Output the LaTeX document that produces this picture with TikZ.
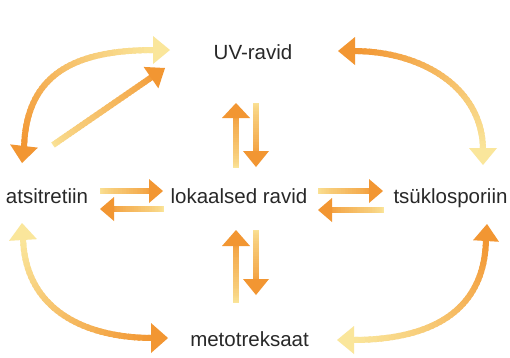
\documentclass[tikz,border=0pt]{standalone}
\usepackage{fontspec}
\setmainfont{Liberation Sans}
\usetikzlibrary{calc}
\definecolor{orA}{RGB}{242,150,50}
\definecolor{paA}{RGB}{250,230,155}
\definecolor{txt}{RGB}{40,40,40}
\tikzset{
  lbl/.style={text=txt,font=\fontsize{20.5}{24}\selectfont,inner sep=0pt,anchor=base},
  shaft/.style={line width=6pt,line cap=butt},
}
% gradient along a cubic curve: #1..#4 points, #5 start colour, #6 end colour
\newcommand\gradpath[6]{%
  \foreach \i in {0,...,39}{%
    \pgfmathsetmacro\ta{\i/40}%
    \pgfmathsetmacro\tb{min(1,(\i+1.5)/40)}%
    \pgfmathtruncatemacro\pc{100*(\i+0.5)/40}%
    \colorlet{segc}{#6!\pc!#5}%
    \pgfcoordinate{gA}{\pgfpointcurveattime{\ta}{\pgfpointanchor{#1}{center}}{\pgfpointanchor{#2}{center}}{\pgfpointanchor{#3}{center}}{\pgfpointanchor{#4}{center}}}%
    \pgfcoordinate{gB}{\pgfpointcurveattime{\tb}{\pgfpointanchor{#1}{center}}{\pgfpointanchor{#2}{center}}{\pgfpointanchor{#3}{center}}{\pgfpointanchor{#4}{center}}}%
    \draw[shaft,segc] (gA) -- (gB);%
  }%
}
% arrow head: #1 tip, #2 base centre, #3 half width, #4 colour
\newcommand\ahead[4]{%
  \fill[#4] (#1) -- ($(#2)!#3!90:(#1)$) -- ($(#2)!#3!-90:(#1)$) -- cycle;%
}
% straight arrow: #1 tail, #2 tip, #3 head length, #4 half width, #5 name
\newcommand\sarrow[5]{%
  \coordinate (#5b) at ($(#2)!#3!(#1)$);
  \coordinate (#5s) at ($(#2)!#3-2pt!(#1)$);
  \gradpath{#1}{#1}{#5s}{#5s}{paA}{orA}
  \ahead{#2}{#5b}{#4}{orA}
}
\begin{document}
\begin{tikzpicture}[x=1pt,y=-1pt]
\useasboundingbox[fill=white] (0,0) rectangle (510,357);

% labels
\node[lbl] (uv) at (253,59) {UV-ravid};
\node[lbl] (ats) at (47,203) {atsitretiin};
\node[lbl] (lok) at (239,203) {lokaalsed ravid};
\node[lbl] (tsu) at (450.5,203) {tsüklosporiin};
\node[lbl] (met) at (249.5,346) {metotreksaat};

% ---- top-left curve (orange at bottom, pale at top)
\coordinate (tlTa) at (22,163); \coordinate (tlBa) at (24,146);
\coordinate (tlTb) at (170,50); \coordinate (tlBb) at (153,50);
\coordinate (tl0) at (24,148); \coordinate (tl1) at (26,70);
\coordinate (tl2) at (80,50); \coordinate (tl3) at (155,50);
\gradpath{tl0}{tl1}{tl2}{tl3}{orA}{paA}
\ahead{tlTa}{tlBa}{14pt}{orA}
\ahead{tlTb}{tlBb}{14pt}{paA}

% ---- top-right curve (orange at left, pale at bottom)
\coordinate (trTa) at (338,51); \coordinate (trBa) at (355,51);
\coordinate (trTb) at (483,165); \coordinate (trBb) at (483,148);
\coordinate (tr0) at (353,51); \coordinate (tr1) at (425,51);
\coordinate (tr2) at (483,90); \coordinate (tr3) at (483,150);
\gradpath{tr0}{tr1}{tr2}{tr3}{orA}{paA}
\ahead{trTa}{trBa}{14pt}{orA}
\ahead{trTb}{trBb}{14pt}{paA}

% ---- bottom-left curve (pale at top, orange at right)
\coordinate (blTa) at (22,223); \coordinate (blBa) at (23,240);
\coordinate (blTb) at (168,338); \coordinate (blBb) at (151,338);
\coordinate (bl0) at (23,238); \coordinate (bl1) at (25,310);
\coordinate (bl2) at (85,338); \coordinate (bl3) at (153,338);
\gradpath{bl0}{bl1}{bl2}{bl3}{paA}{orA}
\ahead{blTa}{blBa}{14pt}{paA}
\ahead{blTb}{blBb}{15pt}{orA}

% ---- bottom-right curve (orange at top, pale at left)
\coordinate (brTa) at (487,224); \coordinate (brBa) at (486,241);
\coordinate (brTb) at (337,340); \coordinate (brBb) at (354,340);
\coordinate (br0) at (486,239); \coordinate (br1) at (485,305);
\coordinate (br2) at (440,340); \coordinate (br3) at (352,340);
\gradpath{br0}{br1}{br2}{br3}{orA}{paA}
\ahead{brTa}{brBa}{13pt}{orA}
\ahead{brTb}{brBb}{14pt}{paA}

% ---- diagonal arrow to UV-ravid
\coordinate (dT) at (53,145); \coordinate (dH) at (165,68);
\sarrow{dT}{dH}{17pt}{13pt}{dg}

% ---- horizontal pairs
\coordinate (h1T) at (100,191); \coordinate (h1H) at (163,191);
\sarrow{h1T}{h1H}{14pt}{12pt}{ha}
\coordinate (h2T) at (163,209); \coordinate (h2H) at (100,209);
\sarrow{h2T}{h2H}{14pt}{12pt}{hb}
\coordinate (h3T) at (318,191); \coordinate (h3H) at (383,191);
\sarrow{h3T}{h3H}{14pt}{12pt}{hc}
\coordinate (h4T) at (383,210); \coordinate (h4H) at (318,210);
\sarrow{h4T}{h4H}{14pt}{12pt}{hd}

% ---- vertical pairs
\coordinate (v1T) at (236,167); \coordinate (v1H) at (236,103);
\sarrow{v1T}{v1H}{15pt}{14pt}{va}
\coordinate (v2T) at (256,103); \coordinate (v2H) at (256,167);
\sarrow{v2T}{v2H}{16pt}{13pt}{vb}
\coordinate (v3T) at (236,302); \coordinate (v3H) at (236,230);
\sarrow{v3T}{v3H}{16pt}{14pt}{vc}
\coordinate (v4T) at (256,230); \coordinate (v4H) at (256,295);
\sarrow{v4T}{v4H}{16pt}{13pt}{vd}
\end{tikzpicture}
\end{document}
